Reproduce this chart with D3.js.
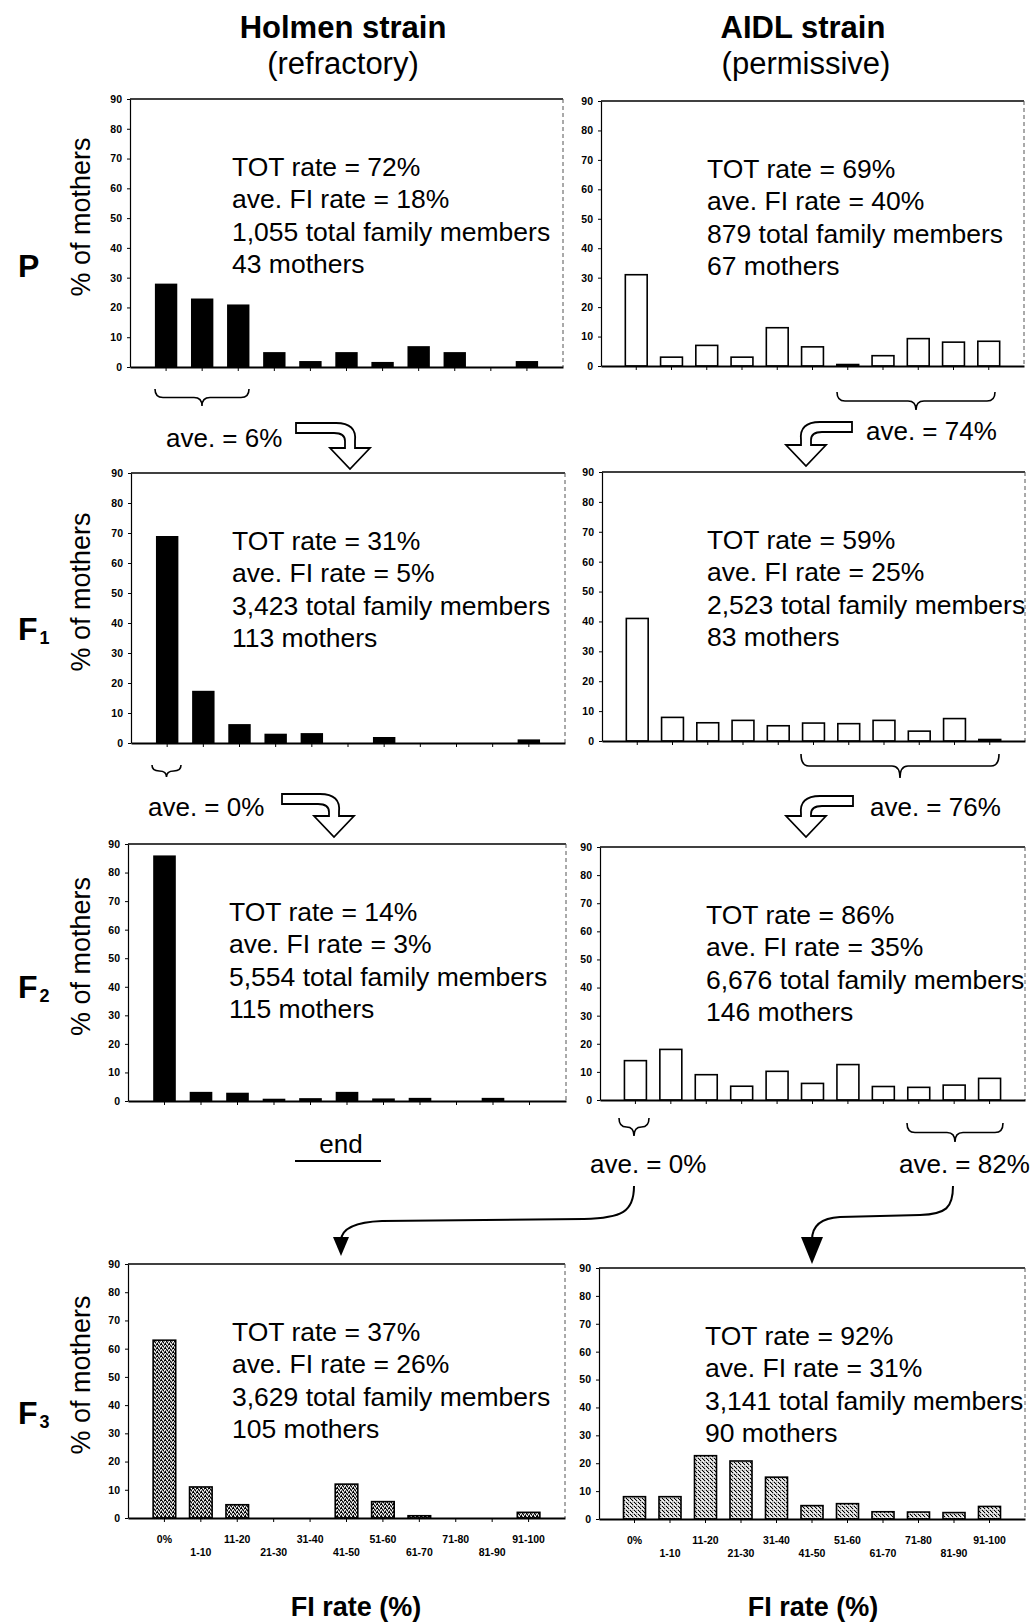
<!DOCTYPE html>
<html>
<head>
<meta charset="utf-8">
<script src="https://cdn.jsdelivr.net/npm/d3@7"></script>
<style>
  body { margin: 0; background: #fff; }
  svg text { font-family: "Liberation Sans", Arial, sans-serif; fill: #000; }
</style>
</head>
<body>
<div id="chart"></div>
<script>
// FI rate classes on the x axis
var categories = ["0%", "1-10", "11-20", "21-30", "31-40", "41-50", "51-60", "61-70", "71-80", "81-90", "91-100"]
var y_ticks = [0, 10, 20, 30, 40, 50, 60, 70, 80, 90]

// % of mothers per FI class
var holmen_P  = [28, 23, 21, 5, 2, 5, 1.7, 7, 5, 0, 2]
var aidl_P    = [31, 3, 7, 3, 13, 6.5, 0.5, 3.5, 9.3, 8.1, 8.4]
var holmen_F1 = [69, 17.4, 6.3, 3.1, 3.3, 0, 2, 0, 0, 0, 1.2]
var aidl_F1   = [41, 7.9, 6.1, 6.9, 5.1, 6, 5.8, 6.9, 3.3, 7.5, 0.5]
var holmen_F2 = [86, 3.2, 2.9, 0.8, 1, 3.2, 0.9, 1.1, 0, 1.1, 0]
var aidl_F2   = [14, 18, 9, 4.9, 10.2, 5.9, 12.6, 4.8, 4.5, 5.3, 7.7]
var holmen_F3 = [63, 11, 4.7, 0, 0, 12, 5.8, 0.8, 0, 0, 2]
var aidl_F3   = [8, 8, 22.7, 20.8, 15, 4.8, 5.5, 2.6, 2.5, 2.3, 4.5]

var stats_holmen_P  = ["TOT rate = 72%", "ave. FI rate = 18%", "1,055 total family members", "43 mothers"]
var stats_aidl_P    = ["TOT rate = 69%", "ave. FI rate = 40%", "879 total family members", "67 mothers"]
var stats_holmen_F1 = ["TOT rate = 31%", "ave. FI rate = 5%", "3,423 total family members", "113 mothers"]
var stats_aidl_F1   = ["TOT rate = 59%", "ave. FI rate = 25%", "2,523 total family members", "83 mothers"]
var stats_holmen_F2 = ["TOT rate = 14%", "ave. FI rate = 3%", "5,554 total family members", "115 mothers"]
var stats_aidl_F2   = ["TOT rate = 86%", "ave. FI rate = 35%", "6,676 total family members", "146 mothers"]
var stats_holmen_F3 = ["TOT rate = 37%", "ave. FI rate = 26%", "3,629 total family members", "105 mothers"]
var stats_aidl_F3   = ["TOT rate = 92%", "ave. FI rate = 31%", "3,141 total family members", "90 mothers"]

var width = 1036
var height = 1624

var svg = d3.select("#chart")
    .append("svg")
    .attr("width", width)
    .attr("height", height)

svg.append("rect").attr("width", width).attr("height", height).attr("fill", "#fff")

// stipple fills for the F3 bars (fixed pixel layout)
var defs = svg.append("defs")
function stipple(id, bg, dark, light) {
    var p = defs.append("pattern")
        .attr("id", id)
        .attr("width", 4).attr("height", 4)
        .attr("patternUnits", "userSpaceOnUse")
    p.append("rect").attr("width", 4).attr("height", 4).attr("fill", bg)
    dark.forEach(function (d) { p.append("rect").attr("x", d[0]).attr("y", d[1]).attr("width", 1).attr("height", 1).attr("fill", "#000") })
    light.forEach(function (d) { p.append("rect").attr("x", d[0]).attr("y", d[1]).attr("width", 1).attr("height", 1).attr("fill", "#fff") })
}
stipple("stipDark", "#858585", [[0, 0], [2, 1], [1, 3], [3, 2], [1, 0]], [[1, 1], [3, 0], [0, 2], [2, 3]])
stipple("stipLight", "#c4c4c4", [[0, 0], [2, 2], [3, 3]], [[1, 3], [3, 1], [2, 0]])

var panels = [
    { data: holmen_P,  stats: stats_holmen_P,  x0: 130, x1: 563,  top: 99,   bot: 367,  tx: 232, fill: "#000", ylab: true },
    { data: aidl_P,    stats: stats_aidl_P,    x0: 601, x1: 1024, top: 101,  bot: 366,  tx: 707, fill: "#fff" },
    { data: holmen_F1, stats: stats_holmen_F1, x0: 131, x1: 565,  top: 473,  bot: 743,  tx: 232, fill: "#000", ylab: true },
    { data: aidl_F1,   stats: stats_aidl_F1,   x0: 602, x1: 1025, top: 472,  bot: 741,  tx: 707, fill: "#fff" },
    { data: holmen_F2, stats: stats_holmen_F2, x0: 128, x1: 566,  top: 844,  bot: 1101, tx: 229, fill: "#000", ylab: true },
    { data: aidl_F2,   stats: stats_aidl_F2,   x0: 600, x1: 1025, top: 847,  bot: 1100, tx: 706, fill: "#fff" },
    { data: holmen_F3, stats: stats_holmen_F3, x0: 128, x1: 565,  top: 1264, bot: 1518, tx: 232, fill: "url(#stipDark)", ylab: true, xlab: true },
    { data: aidl_F3,   stats: stats_aidl_F3,   x0: 599, x1: 1025, top: 1268, bot: 1519, tx: 705, fill: "url(#stipLight)", xlab: true }
]

panels.forEach(function (p) {
    var x = d3.scaleBand()
        .domain(categories)
        .range([p.x0, p.x1])
        .paddingInner(0.38)
        .paddingOuter(0.69)
    var y = d3.scaleLinear()
        .domain([0, 90])
        .range([p.bot, p.top])

    var g = svg.append("g")

    // plot box: solid top, dashed right
    g.append("line")
        .attr("x1", p.x0).attr("x2", p.x1).attr("y1", p.top).attr("y2", p.top)
        .attr("stroke", "#000").attr("stroke-width", 1.5)
    g.append("line")
        .attr("x1", p.x1).attr("x2", p.x1).attr("y1", p.top).attr("y2", p.bot)
        .attr("stroke", "#555").attr("stroke-width", 1).attr("stroke-dasharray", "4,3")

    // bars
    g.selectAll("rect.bar")
        .data(p.data.map(function (v, i) { return { cat: categories[i], v: v } }).filter(function (d) { return d.v > 0 }))
        .join("rect")
        .attr("class", "bar")
        .attr("x", function (d) { return x(d.cat) })
        .attr("width", x.bandwidth())
        .attr("y", function (d) { return y(d.v) })
        .attr("height", function (d) { return p.bot - y(d.v) })
        .attr("fill", p.fill)
        .attr("stroke", "#000")
        .attr("stroke-width", p.fill == "#000" ? 0 : 1.6)

    // axes
    var ya = g.append("g")
        .attr("transform", "translate(" + p.x0 + ",0)")
        .call(d3.axisLeft(y).tickValues(y_ticks).tickSize(3).tickSizeOuter(0).tickPadding(5))
    ya.select(".domain").attr("stroke-width", 1.2)
    ya.selectAll("text")
        .style("font-family", "'Liberation Sans', Arial, sans-serif")
        .style("font-size", "10.5px")
        .style("font-weight", "bold")

    var xa = g.append("g")
        .attr("transform", "translate(0," + p.bot + ")")
        .call(d3.axisBottom(x).tickSize(4).tickSizeOuter(0).tickFormat(""))
    xa.select(".domain").attr("stroke-width", 1.8)

    // staggered class labels (bottom row only)
    if (p.xlab) {
        g.selectAll("text.xl")
            .data(categories)
            .join("text")
            .attr("class", "xl")
            .attr("x", function (d) { return x(d) + x.bandwidth() / 2 })
            .attr("y", function (d, i) { return p.bot + (i % 2 == 0 ? 25 : 38) })
            .attr("text-anchor", "middle")
            .style("font-size", "10.5px")
            .style("font-weight", "bold")
            .text(function (d) { return d })
    }

    // stats text block
    g.selectAll("text.st")
        .data(p.stats)
        .join("text")
        .attr("class", "st")
        .attr("x", p.tx)
        .attr("y", function (d, i) { return p.top + 77 + i * 32.3 })
        .style("font-size", "26.5px")
        .text(function (d) { return d })

    if (p.ylab) {
        var cy = (p.top + p.bot) / 2 - 16
        g.append("text")
            .attr("transform", "translate(81," + cy + ") rotate(-90)")
            .attr("text-anchor", "middle")
            .attr("dy", "0.35em")
            .style("font-size", "27px")
            .text("% of mothers")
    }
})

// column titles
function title(txt, x, y, bold) {
    svg.append("text")
        .attr("x", x).attr("y", y)
        .attr("text-anchor", "middle")
        .style("font-size", "31px")
        .style("font-weight", bold ? "bold" : "normal")
        .text(txt)
}
title("Holmen strain", 343, 38, true)
title("(refractory)", 343, 74, false)
title("AIDL strain", 803, 38, true)
title("(permissive)", 806, 74, false)

// generation labels
var gens = [["P", "", 277], ["F", "1", 640], ["F", "2", 998], ["F", "3", 1424]]
gens.forEach(function (d) {
    var t = svg.append("text")
        .attr("x", 18).attr("y", d[2])
        .style("font-size", "32px")
        .style("font-weight", "bold")
        .text(d[0])
    if (d[1]) {
        t.append("tspan")
            .attr("dy", 4)
            .attr("dx", 2)
            .style("font-size", "18px")
            .text(d[1])
    }
})

// x axis titles
svg.append("text").attr("x", 356).attr("y", 1616).attr("text-anchor", "middle")
    .style("font-size", "27px").style("font-weight", "bold").text("FI rate (%)")
svg.append("text").attr("x", 813).attr("y", 1616).attr("text-anchor", "middle")
    .style("font-size", "27px").style("font-weight", "bold").text("FI rate (%)")

// braces
function brace(a, b, y0, h) {
    var c = (a + b) / 2, m = y0 + h / 2, r = Math.min(8, (b - a) / 4)
    svg.append("path")
        .attr("d", "M" + a + "," + y0 +
            " Q" + a + "," + m + " " + (a + r) + "," + m +
            " L" + (c - r) + "," + m +
            " Q" + c + "," + m + " " + c + "," + (y0 + h) +
            " Q" + c + "," + m + " " + (c + r) + "," + m +
            " L" + (b - r) + "," + m +
            " Q" + b + "," + m + " " + b + "," + y0)
        .attr("fill", "none").attr("stroke", "#000").attr("stroke-width", 1.6)
}
brace(155, 249, 389, 17)
brace(837, 995, 392, 18)
brace(152, 181, 765, 12)
brace(801, 999, 754, 24)
brace(619, 649, 1118, 18)
brace(907, 1003, 1123, 19)

// "ave." notes
var notes = [["ave. = 6%", 166, 447], ["ave. = 74%", 866, 440], ["ave. = 0%", 148, 816],
    ["ave. = 76%", 870, 816], ["ave. = 0%", 590, 1173], ["ave. = 82%", 899, 1173]]
notes.forEach(function (d) {
    svg.append("text").attr("x", d[1]).attr("y", d[2]).style("font-size", "26px").text(d[0])
})

// hollow bent arrows, s = 1 turns right, s = -1 turns left
function hollowArrow(xs, yt, tipX, tipY, s) {
    var t = 10, hw = 20, base = tipY - 21
    var ox = tipX + s * t / 2, ix = tipX - s * t / 2
    var d = "M" + xs + "," + yt +
        " L" + (tipX - s * 14) + "," + yt +
        " Q" + (ox + s * 2) + "," + yt + " " + ox + "," + (yt + 18) +
        " L" + ox + "," + base +
        " L" + (tipX + s * hw) + "," + base +
        " L" + tipX + "," + tipY +
        " L" + (tipX - s * hw) + "," + base +
        " L" + ix + "," + base +
        " L" + ix + "," + (yt + t + 8) +
        " Q" + ix + "," + (yt + t) + " " + (tipX - s * 16) + "," + (yt + t) +
        " L" + xs + "," + (yt + t) + " Z"
    svg.append("path").attr("d", d)
        .attr("fill", "#fff").attr("stroke", "#000").attr("stroke-width", 1.8)
        .attr("stroke-linejoin", "miter")
}
hollowArrow(296, 423, 350, 469, 1)
hollowArrow(852, 422, 806, 466, -1)
hollowArrow(282, 794, 334, 837, 1)
hollowArrow(853, 796, 806, 837, -1)

// "end"
svg.append("text").attr("x", 341).attr("y", 1153).attr("text-anchor", "middle")
    .style("font-size", "26px").text("end")
svg.append("line").attr("x1", 295).attr("x2", 381).attr("y1", 1161).attr("y2", 1161)
    .attr("stroke", "#000").attr("stroke-width", 2)

// curved black arrows into F3
svg.append("path")
    .attr("d", "M634,1186 C634,1212 622,1218 584,1219 L382,1221 C356,1222 342,1228 341,1240")
    .attr("fill", "none").attr("stroke", "#000").attr("stroke-width", 2)
svg.append("path").attr("d", "M333,1237 L349,1237 L341,1256 Z").attr("fill", "#000")
svg.append("path")
    .attr("d", "M953,1186 C953,1208 946,1214 920,1215 L840,1217 C820,1218 812,1226 812,1240")
    .attr("fill", "none").attr("stroke", "#000").attr("stroke-width", 2)
svg.append("path").attr("d", "M801,1237 L823,1237 L812,1264 Z").attr("fill", "#000")
</script>
</body>
</html>
